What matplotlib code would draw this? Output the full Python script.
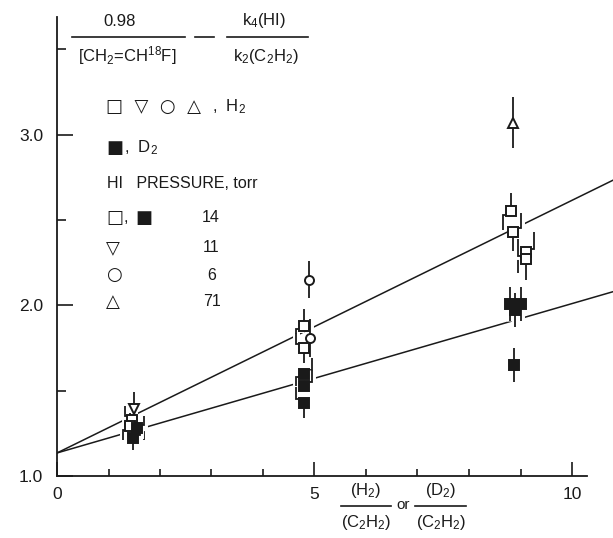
import matplotlib
matplotlib.use("Agg")
import matplotlib.pyplot as plt
import matplotlib.patheffects as pe
from matplotlib.lines import Line2D
import numpy as np

plt.rcParams["font.family"] = ["Liberation Sans", "DejaVu Sans"]
plt.rcParams["mathtext.default"] = "regular"

# ---- data -------------------------------------------------------------
# H2, HI = 14 torr (open squares)
h2_sq_x = [1.45, 1.42, 4.80, 4.80, 8.82, 8.85, 9.10, 9.10]
h2_sq_y = [1.33, 1.29, 1.88, 1.75, 2.55, 2.43, 2.31, 2.27]
h2_sq_err = [0.08, 0.08, 0.10, 0.09, 0.11, 0.11, 0.12, 0.12]

# D2, HI = 14 torr (filled squares)
d2_sq_x = [1.55, 1.48, 4.80, 4.80, 4.80, 8.80, 9.00, 8.90, 8.88]
d2_sq_y = [1.28, 1.22, 1.60, 1.53, 1.43, 2.01, 2.01, 1.97, 1.65]
d2_sq_err = [0.07, 0.07, 0.09, 0.09, 0.09, 0.10, 0.10, 0.10, 0.10]

# H2, HI = 11 torr (down triangles)
h2_tri_dn_x = [1.50]
h2_tri_dn_y = [1.39]
h2_tri_dn_err = [0.10]

# H2, HI = 6 torr (circles)
h2_circ_x = [4.90, 4.92]
h2_circ_y = [2.15, 1.81]
h2_circ_err = [0.11, 0.11]

# H2, HI = 71 torr (up triangle)
h2_tri_up_x = [8.85]
h2_tri_up_y = [3.07]
h2_tri_up_err = [0.15]

# least-squares lines: common intercept, separate slopes
fit_intercept = 1.135
fit_slope_h2 = 0.148
fit_slope_d2 = 0.0875

x_ticks_major = [0, 5, 10]
x_tick_labels = ["0", "5", "10"]
y_ticks_major = [1.0, 2.0, 3.0]
y_tick_labels = ["1.0", "2.0", "3.0"]

# sideways displacement (pixels) of the lower / upper whisker of each point,
# used to keep overlapping error bars apart
h2_sq_hooks = [(-7, -7), (-7, 0), (-8, 0), (0, -8), (-8, 0), (0, 8), (-8, 8), (0, -8)]
d2_sq_hooks = [(7, 7), (0, 7), (-8, 8), (-8, 8), (0, -8), (0, 0), (0, 0), (0, 0), (0, 0)]

# ---- figure -----------------------------------------------------------
W, H = 613, 538
fig = plt.figure(figsize=(W / 100, H / 100), dpi=100)
ax_left, ax_bottom = 57, 62
ax = fig.add_axes([ax_left / W, ax_bottom / H, (W - ax_left) / W, (H - ax_bottom) / H])
px_per_x = 51.5
px_per_y = 170.7
x_max = (W - ax_left) / px_per_x
y_max = 1.0 + (H - ax_bottom) / px_per_y
ax.set_xlim(0, x_max)
ax.set_ylim(1.0, y_max)

ink = "#1a1a1a"

# fitted lines
xl = np.array([0.0, x_max])
ax.plot(xl, fit_intercept + fit_slope_h2 * xl, color=ink, lw=1.1, zorder=1)
ax.plot(xl, fit_intercept + fit_slope_d2 * xl, color=ink, lw=1.1, zorder=1)

halo = [pe.withStroke(linewidth=5, foreground="white")]
to_data = ax.transData.inverted()


def whisker(x, y, e, off, sign, half):
    """Draw one whisker (sign=+1 up, -1 down), optionally hooked sideways."""
    x0, y0 = ax.transData.transform((x, y))
    _, ye = ax.transData.transform((x, y + sign * e))
    if off == 0:
        pts = [(x0, y0), (x0, ye)]
    else:
        ys0 = y0 + sign * (half - 1)
        pts = [(x0, ys0), (x0 + off, ys0), (x0 + off, ye)]
    d = to_data.transform(pts)
    ax.plot(d[:, 0], d[:, 1], color=ink, lw=1.3, zorder=3, path_effects=halo,
            solid_capstyle="butt", solid_joinstyle="miter")


def draw(xs, ys, errs, marker, filled, ms, hooks=None):
    half = ms * 100 / 72 / 2
    for i, (x, y, e) in enumerate(zip(xs, ys, errs)):
        lo, hi = hooks[i] if hooks else (0, 0)
        whisker(x, y, e, lo, -1, half)
        whisker(x, y, e, hi, +1, half)
    ax.plot(xs, ys, ls="none", marker=marker, ms=ms, mew=1.4,
            mec=ink, mfc=ink if filled else "white", zorder=5)


draw(h2_sq_x, h2_sq_y, h2_sq_err, "s", False, 6.5, h2_sq_hooks)
draw(d2_sq_x, d2_sq_y, d2_sq_err, "s", True, 6.5, d2_sq_hooks)
draw(h2_tri_dn_x, h2_tri_dn_y, h2_tri_dn_err, "v", False, 7.5)
draw(h2_circ_x, h2_circ_y, h2_circ_err, "o", False, 6.5)
draw(h2_tri_up_x, h2_tri_up_y, h2_tri_up_err, "^", False, 7.5)

# axes styling
for s in ("top", "right"):
    ax.spines[s].set_visible(False)
for s in ("left", "bottom"):
    ax.spines[s].set_linewidth(1.3)
    ax.spines[s].set_color(ink)
ax.spines["bottom"].set_bounds(0, 10.3)
ax.spines["left"].set_bounds(1.0, 3.69)

ax.set_xticks(x_ticks_major)
ax.set_xticklabels(x_tick_labels)
ax.set_xticks(np.arange(1, 11), minor=True)
ax.set_yticks(y_ticks_major)
ax.set_yticklabels(y_tick_labels)
ax.set_yticks([1.5, 2.5, 3.5], minor=True)
ax.tick_params(axis="x", which="major", direction="in", length=10, width=1.2,
               color=ink, labelsize=12.5, pad=8, labelcolor=ink)
ax.tick_params(axis="x", which="minor", direction="in", length=5, width=1.2, color=ink)
ax.tick_params(axis="y", which="major", direction="in", length=11.5, width=1.2,
               color=ink, labelsize=12.5, pad=10, labelcolor=ink)
ax.tick_params(axis="y", which="minor", direction="in", length=6.5, width=1.2, color=ink)


# ---- text helpers (pixel positions in the figure) -----------------------
def fx(x):
    return x / W


def fy(y):
    return 1 - y / H


def txt(x, y, s, ha="center", size=11.5, family=None):
    kw = {"family": family} if family else {}
    fig.text(fx(x), fy(y), s, ha=ha, va="center", fontsize=size, color=ink, **kw)


def sym(x, y, s, size=13):
    txt(x, y, s, ha="left", size=size, family="DejaVu Sans")


def bar(x0, x1, y):
    fig.add_artist(Line2D([fx(x0), fx(x1)], [fy(y), fy(y)], color=ink, lw=1.2,
                          transform=fig.transFigure))


# ordinate expression
txt(120, 22, "0.98", size=12)
bar(72, 185, 37)
txt(127, 56, r"[CH$_2$=CH$^{18}$F]", size=12)
bar(195, 214, 37)
txt(264, 21, r"k$_4$(HI)", size=12)
bar(227, 308, 37)
txt(266, 56, r"k$_2$(C$_2$H$_2$)", size=12)

# key
sym(106, 107, "\u25a1  \u25bd  \u25cb  \u25b3")
txt(212, 107, ",  H$_2$", ha="left", size=12)
sym(106, 148, "\u25a0")
txt(124, 148, ",  D$_2$", ha="left", size=12)
txt(107, 184, "HI   PRESSURE, torr", ha="left", size=11.5)
sym(106, 218, "\u25a1")
txt(124, 218, ",", ha="left", size=12)
sym(135, 218, "\u25a0")
txt(211, 218, "14", size=11.5)
sym(106, 248, "\u25bd")
txt(211, 248, "11", size=11.5)
sym(106, 275, "\u25cb")
txt(212, 275, "6", size=11.5)
sym(106, 302, "\u25b3")
txt(212, 302, "71", size=11.5)

# abscissa expression
txt(366, 490, r"(H$_2$)", size=12)
bar(341, 391, 506)
txt(366, 523, r"(C$_2$H$_2$)", size=12)
txt(403, 505, "or", size=11)
txt(441, 490, r"(D$_2$)", size=12)
bar(415, 466, 506)
txt(441, 523, r"(C$_2$H$_2$)", size=12)

fig.savefig("out.png", dpi=100, facecolor="white")
